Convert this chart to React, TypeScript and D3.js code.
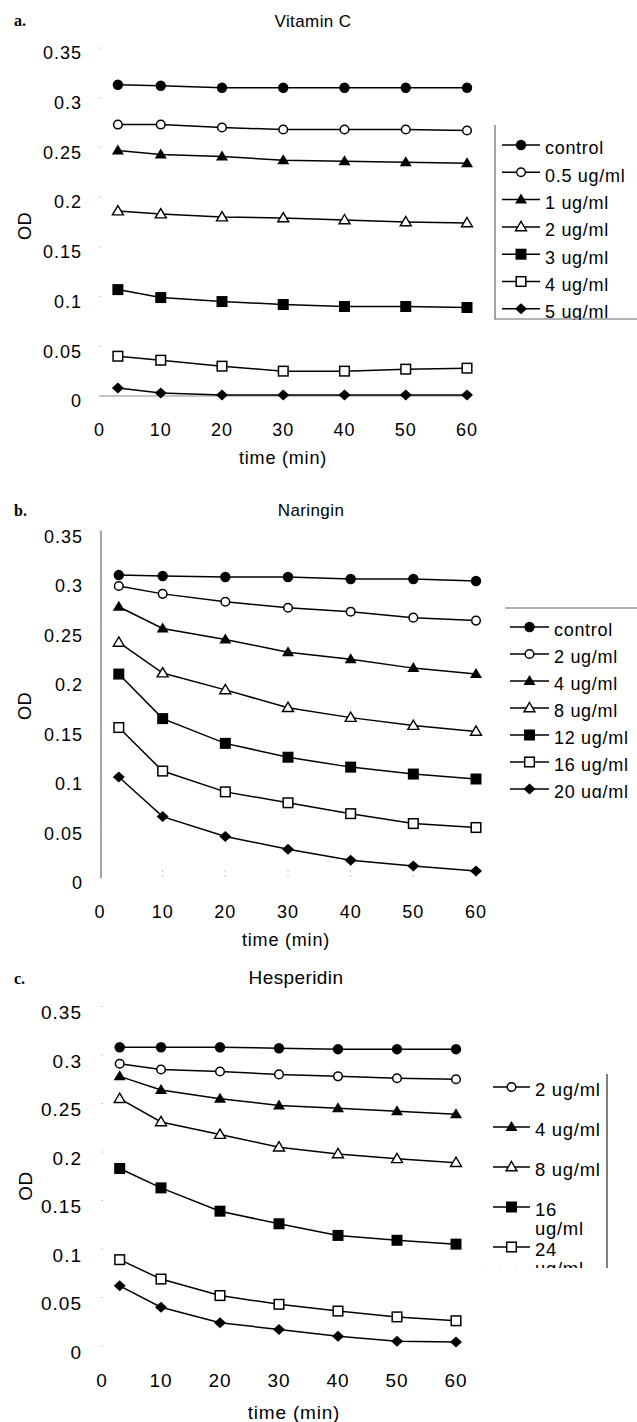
import React from "react";
import * as d3 from "d3";

const TIMES = [3, 10, 20, 30, 40, 50, 60];
const X_TICKS = [0, 10, 20, 30, 40, 50, 60];
const Y_TICKS = [0, 0.05, 0.1, 0.15, 0.2, 0.25, 0.3, 0.35];

type Mk = "dot" | "circle" | "tri" | "triOpen" | "sq" | "sqOpen" | "diamond";
const MARKERS: Mk[] = ["dot", "circle", "tri", "triOpen", "sq", "sqOpen", "diamond"];

// panel a - Vitamin C
const VITC_LABELS = ["control", "0.5 ug/ml", "1 ug/ml", "2 ug/ml", "3 ug/ml", "4 ug/ml", "5 ug/ml"];
const VITC_CONTROL = [0.313, 0.312, 0.310, 0.310, 0.310, 0.310, 0.310];
const VITC_05 = [0.273, 0.273, 0.270, 0.268, 0.268, 0.268, 0.267];
const VITC_1 = [0.247, 0.243, 0.241, 0.237, 0.236, 0.235, 0.234];
const VITC_2 = [0.186, 0.183, 0.180, 0.179, 0.177, 0.175, 0.174];
const VITC_3 = [0.107, 0.099, 0.095, 0.092, 0.090, 0.090, 0.089];
const VITC_4 = [0.040, 0.036, 0.030, 0.025, 0.025, 0.027, 0.028];
const VITC_5 = [0.008, 0.003, 0.001, 0.001, 0.001, 0.001, 0.001];

// panel b - Naringin
const NAR_LABELS = ["control", "2 ug/ml", "4 ug/ml", "8 ug/ml", "12 ug/ml", "16 ug/ml", "20 ug/ml"];
const NAR_CONTROL = [0.306, 0.305, 0.304, 0.304, 0.302, 0.302, 0.300];
const NAR_2 = [0.295, 0.287, 0.279, 0.273, 0.269, 0.263, 0.260];
const NAR_4 = [0.274, 0.252, 0.241, 0.228, 0.221, 0.212, 0.206];
const NAR_8 = [0.238, 0.207, 0.190, 0.172, 0.162, 0.154, 0.148];
const NAR_12 = [0.206, 0.161, 0.136, 0.122, 0.112, 0.105, 0.100];
const NAR_16 = [0.152, 0.108, 0.087, 0.076, 0.065, 0.055, 0.051];
const NAR_20 = [0.102, 0.062, 0.042, 0.029, 0.018, 0.012, 0.007];

// panel c - Hesperidin (legend is cut off in the source)
const HES_LABELS = ["2 ug/ml", "4 ug/ml", "8 ug/ml", "16\nug/ml", "24\nug/ml"];
const HES_CONTROL = [0.308, 0.308, 0.308, 0.307, 0.306, 0.306, 0.306];
const HES_2 = [0.291, 0.285, 0.283, 0.280, 0.278, 0.276, 0.275];
const HES_4 = [0.278, 0.264, 0.255, 0.248, 0.245, 0.242, 0.239];
const HES_8 = [0.255, 0.231, 0.218, 0.205, 0.198, 0.193, 0.189];
const HES_16 = [0.183, 0.163, 0.139, 0.126, 0.114, 0.109, 0.105];
const HES_24 = [0.089, 0.069, 0.052, 0.043, 0.036, 0.030, 0.026];
const HES_LAST = [0.062, 0.040, 0.024, 0.017, 0.010, 0.005, 0.004];

const FONT = "'Liberation Sans', Arial, Helvetica, sans-serif";

function Marker({ kind, x, y }: { kind: Mk; x: number; y: number }) {
  switch (kind) {
    case "dot":
      return <circle cx={x} cy={y} r={5.2} fill="#000" />;
    case "circle":
      return <circle cx={x} cy={y} r={4.3} fill="#fff" stroke="#000" strokeWidth={1.5} />;
    case "tri":
      return <path d={`M${x},${y - 6}L${x + 6},${y + 4}L${x - 6},${y + 4}Z`} fill="#000" />;
    case "triOpen":
      return (
        <path d={`M${x},${y - 5.5}L${x + 5.5},${y + 3.8}L${x - 5.5},${y + 3.8}Z`} fill="#fff" stroke="#000" strokeWidth={1.4} />
      );
    case "sq":
      return <rect x={x - 5.5} y={y - 5.5} width={11} height={11} fill="#000" />;
    case "sqOpen":
      return <rect x={x - 4.8} y={y - 4.8} width={9.6} height={9.6} fill="#fff" stroke="#000" strokeWidth={1.5} />;
    case "diamond":
      return <path d={`M${x},${y - 5.5}L${x + 6},${y}L${x},${y + 5.5}L${x - 6},${y}Z`} fill="#000" />;
  }
  return null;
}

type PanelCfg = {
  letter: string;
  letterY: number;
  title: string;
  titleX: number;
  titleY: number;
  titleSize: number;
  xRange: [number, number];
  yRange: [number, number];
  series: number[][];
  font: number;
  yLabelRight: number;
  yLabelDy: number;
  xLabelY: number;
  xTitleX: number;
  xTitleY: number;
  odY: number;
  axis: "x" | "y" | "none";
};

function Panel({ cfg }: { cfg: PanelCfg }) {
  const x = d3.scaleLinear().domain([0, 60]).range(cfg.xRange);
  const y = d3.scaleLinear().domain([0, 0.35]).range(cfg.yRange);
  const line = d3
    .line<number>()
    .x((_, i) => x(TIMES[i]))
    .y((d) => y(d));

  return (
    <g fontFamily={FONT} fill="#000">
      <text x={14} y={cfg.letterY} dy="0.35em" fontFamily="'Liberation Serif', 'Times New Roman', serif" fontWeight="bold" fontSize={16}>
        {cfg.letter}
      </text>
      <text x={cfg.titleX} y={cfg.titleY} dy="0.35em" textAnchor="middle" fontSize={cfg.titleSize} letterSpacing={0.4}>
        {cfg.title}
      </text>

      {cfg.axis === "x" && (
        <line x1={x(0)} x2={x(60) + 4} y1={y(0)} y2={y(0)} stroke="#8a8a8a" strokeWidth={1.2} />
      )}
      {cfg.axis === "y" && (
        <line x1={x(0) + 1} x2={x(0) + 1} y1={y(0.35) - 1} y2={y(0)} stroke="#6a6a6a" strokeWidth={1.2} />
      )}

      {Y_TICKS.map((t) => (
        <g key={`y${t}`}>
          <line x1={x(0) - 1} x2={x(0) + 1} y1={y(t)} y2={y(t)} stroke="#c8c8c8" strokeWidth={1} />
          <text
            x={cfg.yLabelRight}
            y={y(t) + cfg.yLabelDy}
            dy="0.35em"
            textAnchor="end"
            fontSize={cfg.font}
            letterSpacing={1}
          >
            {t === 0 ? "0" : d3.format("")(+t.toFixed(2))}
          </text>
        </g>
      ))}
      {X_TICKS.map((t) => (
        <g key={`x${t}`}>
          {cfg.axis === "y" && t > 0 && (
            <line x1={x(t)} x2={x(t)} y1={y(0) - 8} y2={y(0)} stroke="#c8c8c8" strokeDasharray="2,3" />
          )}
          <text x={x(t)} y={cfg.xLabelY} dy="0.35em" textAnchor="middle" fontSize={cfg.font} letterSpacing={1}>
            {t}
          </text>
        </g>
      ))}

      <text x={cfg.xTitleX} y={cfg.xTitleY} dy="0.35em" textAnchor="middle" fontSize={cfg.font} letterSpacing={0.8}>
        time (min)
      </text>
      <text
        transform={`translate(25,${cfg.odY}) rotate(-90)`}
        dy="0.35em"
        textAnchor="middle"
        fontSize={cfg.font}
        letterSpacing={0.5}
      >
        OD
      </text>

      {cfg.series.map((vals, si) => (
        <g key={si}>
          <path d={line(vals) || ""} fill="none" stroke="#000" strokeWidth={1.5} />
          {vals.map((v, i) => (
            <Marker key={i} kind={MARKERS[si]} x={x(TIMES[i])} y={y(v)} />
          ))}
        </g>
      ))}
    </g>
  );
}

type LegendCfg = {
  labels: string[];
  markers: Mk[];
  y0: number;
  step: number;
  lineX: [number, number];
  textX: number;
  font: number;
  lineGap: number;
  clipId: string;
  clip: [number, number, number, number];
};

function Legend({ cfg }: { cfg: LegendCfg }) {
  const [cx, cy, cw, ch] = cfg.clip;
  return (
    <g fontFamily={FONT}>
      <defs>
        <clipPath id={cfg.clipId}>
          <rect x={cx} y={cy} width={cw} height={ch} />
        </clipPath>
      </defs>
      <g clipPath={`url(#${cfg.clipId})`}>
        {cfg.labels.map((lab, i) => {
          const ly = cfg.y0 + i * cfg.step;
          const parts = lab.split("\n");
          const mx = (cfg.lineX[0] + cfg.lineX[1]) / 2;
          return (
            <g key={lab}>
              <line x1={cfg.lineX[0]} x2={cfg.lineX[1]} y1={ly} y2={ly} stroke="#000" strokeWidth={1.5} />
              <Marker kind={cfg.markers[i]} x={mx} y={ly} />
              {parts.map((p, j) => (
                <text
                  key={j}
                  x={cfg.textX}
                  y={ly + 3 + j * cfg.lineGap}
                  dy="0.35em"
                  fontSize={cfg.font}
                  letterSpacing={0.7}
                  fill="#000"
                >
                  {p}
                </text>
              ))}
            </g>
          );
        })}
      </g>
    </g>
  );
}

const PANEL_A: PanelCfg = {
  letter: "a.",
  letterY: 20,
  title: "Vitamin C",
  titleX: 313,
  titleY: 21,
  titleSize: 17,
  xRange: [99.5, 467],
  yRange: [396, 48],
  series: [VITC_CONTROL, VITC_05, VITC_1, VITC_2, VITC_3, VITC_4, VITC_5],
  font: 18,
  yLabelRight: 82,
  yLabelDy: 5,
  xLabelY: 430,
  xTitleX: 283,
  xTitleY: 458,
  odY: 226,
  axis: "x",
};

const PANEL_B: PanelCfg = {
  letter: "b.",
  letterY: 510,
  title: "Naringin",
  titleX: 311,
  titleY: 510,
  titleSize: 17,
  xRange: [100, 476],
  yRange: [878, 531.5],
  series: [NAR_CONTROL, NAR_2, NAR_4, NAR_8, NAR_12, NAR_16, NAR_20],
  font: 18,
  yLabelRight: 83,
  yLabelDy: 5,
  xLabelY: 912,
  xTitleX: 286,
  xTitleY: 940,
  odY: 706,
  axis: "y",
};

const PANEL_C: PanelCfg = {
  letter: "c.",
  letterY: 978,
  title: "Hesperidin",
  titleX: 296,
  titleY: 977,
  titleSize: 19,
  xRange: [102, 456],
  yRange: [1346, 1006.5],
  series: [HES_CONTROL, HES_2, HES_4, HES_8, HES_16, HES_24, HES_LAST],
  font: 19,
  yLabelRight: 82,
  yLabelDy: 6,
  xLabelY: 1380,
  xTitleX: 294,
  xTitleY: 1412,
  odY: 1186,
  axis: "none",
};

const LEGEND_A: LegendCfg = {
  labels: VITC_LABELS,
  markers: MARKERS,
  y0: 145,
  step: 27.3,
  lineX: [502, 540],
  textX: 545,
  font: 18,
  lineGap: 22,
  clipId: "clipA",
  clip: [490, 120, 147, 200],
};

const LEGEND_B: LegendCfg = {
  labels: NAR_LABELS,
  markers: MARKERS,
  y0: 627,
  step: 27,
  lineX: [510, 549],
  textX: 554,
  font: 18,
  lineGap: 22,
  clipId: "clipB",
  clip: [500, 605, 137, 193],
};

const LEGEND_C: LegendCfg = {
  labels: HES_LABELS,
  markers: MARKERS.slice(1, 6),
  y0: 1087,
  step: 40,
  lineX: [493, 530],
  textX: 535,
  font: 18.5,
  lineGap: 19,
  clipId: "clipC",
  clip: [485, 1070, 120, 198],
};

export default function App() {
  return (
    <svg
      width={637}
      height={1422}
      viewBox="0 0 637 1422"
      style={{ position: "absolute", left: 0, top: 0, background: "#fff" }}
    >
      <rect width={637} height={1422} fill="#fff" />
      <Panel cfg={PANEL_A} />
      <Panel cfg={PANEL_B} />
      <Panel cfg={PANEL_C} />

      {/* legend frames, as cropped in the scan */}
      <path d="M495,125V319H637" fill="none" stroke="#666" strokeWidth={1.2} />
      <line x1={505} x2={637} y1={608} y2={608} stroke="#666" strokeWidth={1.2} />
      <line x1={607} x2={607} y1={1074} y2={1268} stroke="#555" strokeWidth={1.5} />
      <line x1={485} x2={607} y1={1268} y2={1268} stroke="#ddd" strokeWidth={1} strokeDasharray="1,14" />

      <Legend cfg={LEGEND_A} />
      <Legend cfg={LEGEND_B} />
      <Legend cfg={LEGEND_C} />
    </svg>
  );
}
